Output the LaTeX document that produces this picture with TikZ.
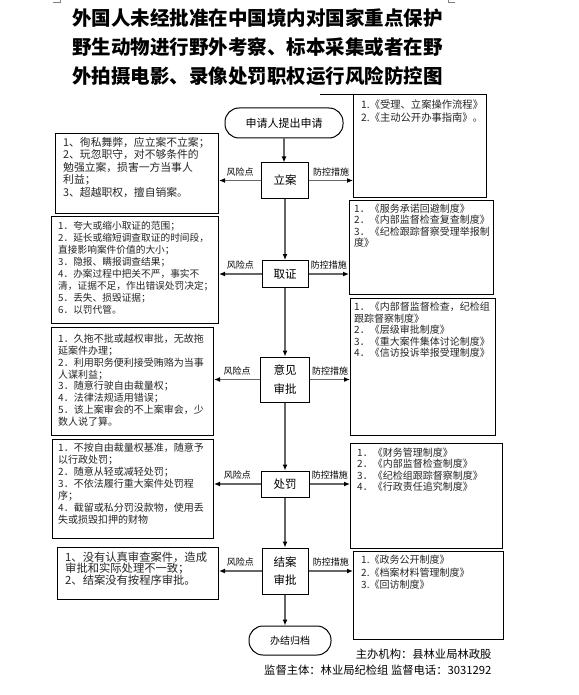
\documentclass[tikz,border=0pt]{standalone}
\usepackage{fontspec}
\setmainfont{Noto Sans CJK SC}
\usepackage{tikz}
\usetikzlibrary{arrows,arrows.meta,shapes}

\begin{document}
\begin{tikzpicture}[x=1pt,y=-1pt]
		\tikzstyle{step_node}=[draw, line width=1pt, align=center, inner sep=0pt, font=\fontsize{11.5}{18.5}\selectfont]
		\tikzstyle{terminal}=[step_node, rounded corners=14pt, font=\fontsize{11}{11}\selectfont]
		\tikzstyle{risk_box}=[draw, line width=1pt, anchor=north west, inner sep=0pt]
		\tikzstyle{ctrl_box}=[risk_box]
		\tikzstyle{box_text}=[anchor=north west, align=left, inner sep=0pt, text=black!85]
		\tikzstyle{flow}=[draw=black!60, line width=1.3pt, -{Latex[length=6pt,width=5pt,color=black]}]
		\tikzstyle{flow_text}=[above, inner sep=1pt, yshift=3pt, font=\fontsize{9}{9}\selectfont]

		\useasboundingbox (0,0) rectangle (578,695);
		\fill[white] (0,0) rectangle (578,695);
		\draw[black!50, line width=0.5pt] (53,2) -- (60,2) -- (60,0);
		\draw[black!50, line width=0.5pt] (448,0) -- (448,2) -- (455,2);

		\node (title) [align=center, font=\fontsize{19.5}{29}\selectfont\bfseries] at (257.5,47)
			{外国人未经批准在中国境内对国家重点保护\\野生动物进行野外考察、标本采集或者在野\\外拍摄电影、录像处罚职权运行风险防控图};
		\draw[line width=0.6pt] (320,94) -- (440,94);

		\node [terminal, minimum width=118pt, minimum height=30pt] (apply) at (284,123) {申请人提出申请};
		\node [step_node, minimum width=47pt, minimum height=35pt] (lian) at (285,180.5) {立案};
		\node [step_node, minimum width=46pt, minimum height=27pt] (quzheng) at (285,274) {取证};
		\node [step_node, minimum width=49pt, minimum height=45pt] (shenpi) at (285,379.5) {意见\\审批};
		\node [step_node, minimum width=48pt, minimum height=26pt] (chufa) at (285,484) {处罚};
		\node [step_node, minimum width=46pt, minimum height=46pt] (jiean) at (285,571) {结案\\审批};
		\node [terminal, minimum width=82pt, minimum height=29pt, font=\fontsize{10}{10}\selectfont] (archive) at (290,640.5) {办结归档};

		\node [risk_box, minimum width=163pt, minimum height=80pt] (risk1) at (55,133) {};
		\node [risk_box, minimum width=167pt, minimum height=107pt] (risk2) at (51,216) {};
		\node [risk_box, minimum width=162pt, minimum height=108pt] (risk3) at (51,327) {};
		\node [risk_box, minimum width=161pt, minimum height=99pt] (risk4) at (52,439) {};
		\node [risk_box, minimum width=161pt, minimum height=52pt] (risk5) at (57,547) {};

		\node [ctrl_box, minimum width=133pt, minimum height=103pt] (ctrl1) at (353,94) {};
		\node [ctrl_box, minimum width=144pt, minimum height=94pt] (ctrl2) at (349,200) {};
		\node [ctrl_box, minimum width=145pt, minimum height=137pt] (ctrl3) at (350,298) {};
		\node [ctrl_box, minimum width=152pt, minimum height=105pt] (ctrl4) at (350,443) {};
		\node [ctrl_box, minimum width=150pt, minimum height=88pt] (ctrl5) at (353,551) {};

		\node [box_text, font=\fontsize{10.8}{12.5}\selectfont] (risk1_text) at (63,137)
			{1、徇私舞弊，应立案不立案；\\2、玩忽职守，对不够条件的\\勉强立案，损害一方当事人\\利益；\\3、超越职权，擅自销案。};
		\node [box_text, font=\fontsize{9.7}{12}\selectfont] (risk2_text) at (58,221)
			{1．夸大或缩小取证的范围；\\2．延长或缩短调查取证的时间段，\\直接影响案件价值的大小；\\3．隐报、瞒报调查结果；\\4．办案过程中把关不严，事实不\\清，证据不足，作出错误处罚决定；\\5．丢失、损毁证据；\\6．以罚代管。};
		\node [box_text, font=\fontsize{10}{11.8}\selectfont] (risk3_text) at (58,334)
			{1．久拖不批或越权审批，无故拖\\延案件办理；\\2．利用职务便利接受贿赂为当事\\人谋利益；\\3．随意行驶自由裁量权；\\4．法律法规适用错误；\\5．该上案审会的不上案审会，少\\数人说了算。};
		\node [box_text, font=\fontsize{10}{12}\selectfont] (risk4_text) at (58,443)
			{1．不按自由裁量权基准，随意予\\以行政处罚；\\2．随意从轻或减轻处罚；\\3．不依法履行重大案件处罚程\\序；\\4．截留或私分罚没款物，使用丢\\失或损毁扣押的财物};
		\node [box_text, font=\fontsize{11.3}{11}\selectfont] (risk5_text) at (65,551.5)
			{1、没有认真审查案件，造成\\审批和实际处理不一致；\\2、结案没有按程序审批。};

		\node [box_text, font=\fontsize{10.3}{12.7}\selectfont] (ctrl1_text) at (361,100)
			{1.《受理、立案操作流程》\\2.《主动公开办事指南》。};
		\node [box_text, font=\fontsize{10}{11.3}\selectfont] (ctrl2_text) at (354,204)
			{1．《服务承诺回避制度》\\2．《内部监督检查复查制度》\\3．《纪检跟踪督察受理举报制\\度》};
		\node [box_text, font=\fontsize{10}{11.5}\selectfont] (ctrl3_text) at (354,302)
			{1．《内部督监督检查，纪检组\\跟踪督察制度》\\2．《层级审批制度》\\3．《重大案件集体讨论制度》\\4．《信访投诉举报受理制度》};
		\node [box_text, font=\fontsize{10}{11.3}\selectfont] (ctrl4_text) at (357,448)
			{1．《财务管理制度》\\2．《内部监督检查制度》\\3．《纪检组跟踪督察制度》\\4．《行政责任追究制度》};
		\node [box_text, font=\fontsize{10}{12.5}\selectfont] (ctrl5_text) at (361,555)
			{1.《政务公开制度》\\2.《档案材料管理制度》\\3.《回访制度》};

		\draw[flow] (apply.south) -- (apply.south |- lian.north);
		\draw[flow] (lian.south) -- (lian.south |- quzheng.north);
		\draw[flow] (quzheng.south) -- (quzheng.south |- shenpi.north);
		\draw[flow] (shenpi.south) -- (shenpi.south |- chufa.north);
		\draw[flow] (chufa.south) -- (chufa.south |- jiean.north);
		\draw[flow] (jiean.south) -- (jiean.south |- archive.north);

		\draw[flow] (lian) -- node[flow_text] {风险点} (lian -| risk1.east);
		\draw[flow] (quzheng) -- node[flow_text] {风险点} (quzheng -| risk2.east);
		\draw[flow] (shenpi) -- node[flow_text] {风险点} (shenpi -| risk3.east);
		\draw[flow] (chufa) -- node[flow_text] {风险点} (chufa -| risk4.east);
		\draw[flow] (jiean) -- node[flow_text] {风险点} (jiean -| risk5.east);

		\draw[flow] (lian) -- node[flow_text] {防控措施} (lian -| ctrl1.west);
		\draw[flow] (quzheng) -- node[flow_text] {防控措施} (quzheng -| ctrl2.west);
		\draw[flow] (shenpi) -- node[flow_text] {防控措施} (shenpi -| ctrl3.west);
		\draw[flow] (chufa) -- node[flow_text] {防控措施} (chufa -| ctrl4.west);
		\draw[flow] (jiean) -- node[flow_text] {防控措施} (jiean -| ctrl5.west);

		\node [anchor=east, font=\fontsize{11.3}{11.3}\selectfont] (host) at (495,654) {主办机构：县林业局林政股};
		\node [anchor=east, font=\fontsize{11.3}{11.3}\selectfont] (supervisor) at (495,670) {监督主体：林业局纪检组 监督电话：3031292};
	\end{tikzpicture}
\end{document}
